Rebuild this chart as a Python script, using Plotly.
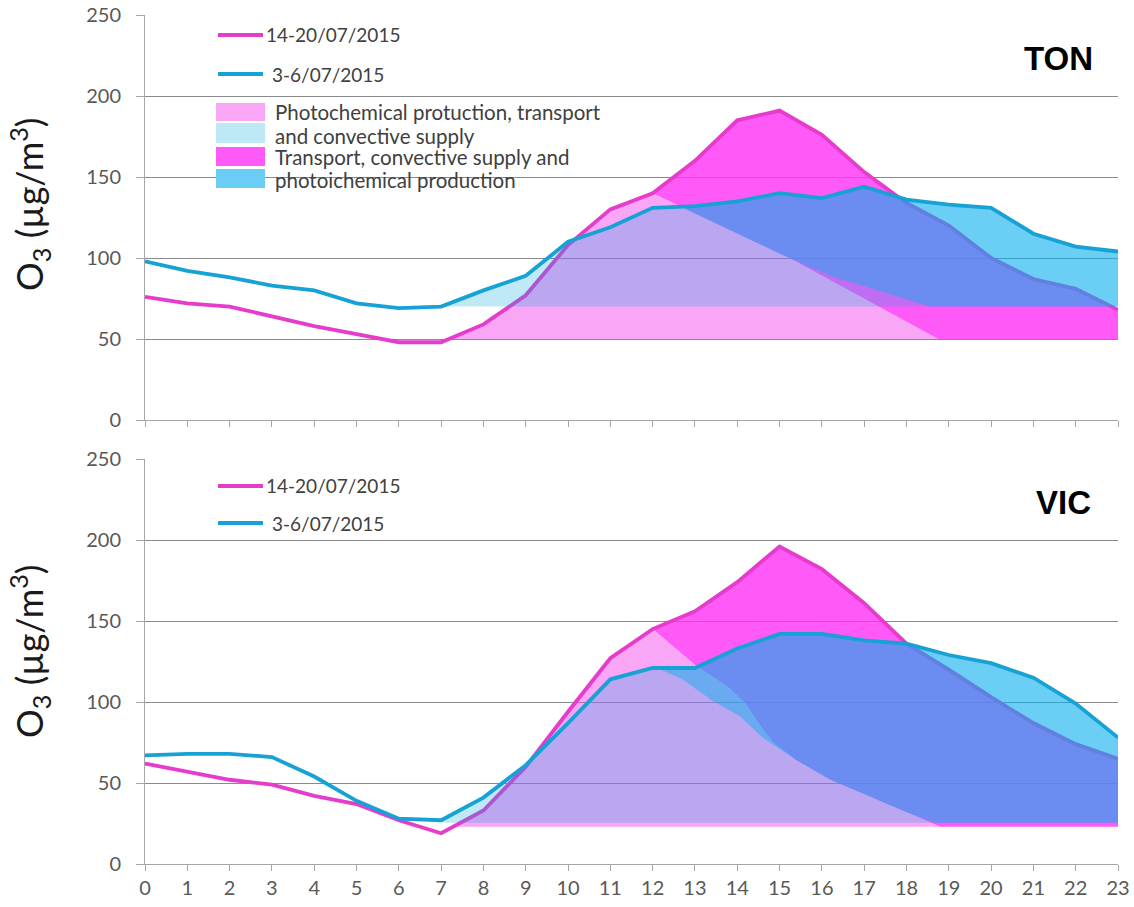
import numpy as np
import plotly.graph_objects as go

# ---------------- data ----------------
HOURS = list(range(24))
HOUR_LABELS = [str(h) for h in HOURS]
Y_TICKS = [0, 50, 100, 150, 200, 250]

SERIES_A = "14-20/07/2015"
SERIES_B = "3-6/07/2015"

TON_JUL14 = [76, 72, 70, 64, 58, 53, 48, 48, 59, 77, 108, 130, 140, 160, 185, 191, 176, 153, 134, 120, 100, 87, 81, 68]
TON_JUL3 = [98, 92, 88, 83, 80, 72, 69, 70, 80, 89, 110, 119, 131, 132, 135, 140, 137, 144, 136, 133, 131, 115, 107, 104]
VIC_JUL14 = [62, 57, 52, 49, 42, 37, 27, 19, 33, 60, 94, 127, 145, 156, 174, 196, 182, 161, 136, 120, 103, 87, 74, 65]
VIC_JUL3 = [67, 68, 68, 66, 54, 39, 28, 27, 41, 61, 87, 114, 121, 121, 133, 142, 142, 138, 136, 129, 124, 115, 99, 78]

# hand-drawn partition of each curve (hour, O3 value)
TON_PINK_BASE = 50
TON_PINK_EDGE_X = [12, 15.3, 18.75]
TON_PINK_EDGE_Y = [140, 99, 50]
TON_CYAN_BASE = 70
TON_CYAN_EDGE_X = [12.65, 15.3, 16.2, 18.55]
TON_CYAN_EDGE_Y = [131.65, 99, 89, 70]

VIC_PINK_BASE = 23
VIC_PINK_EDGE_X = [12, 13.0, 13.8, 14.2, 14.5, 14.85, 15.4, 16.2, 17.0, 18.0, 18.8]
VIC_PINK_EDGE_Y = [145, 123, 109, 99, 87, 75, 64, 52, 43, 32, 23]
VIC_CYAN_BASE = 25.5
VIC_CYAN_EDGE_X = [12.1, 12.7, 13.4, 14.07, 14.6, 15.4, 16.2, 17.0, 18.0, 18.7]
VIC_CYAN_EDGE_Y = [121, 114, 101, 91, 78, 64, 52, 43, 32, 25.5]

LEGEND_AREAS = ["Photochemical protuction, transport", "and convective supply",
                "Transport, convective supply and", "photoichemical production"]

# ---------------- styles ----------------
PINK_LIGHT = "rgba(243,77,239,0.5)"
MAGENTA_FILL = "rgba(255,49,246,0.8)"
CYAN_LIGHT = "rgba(0,167,223,0.25)"
CYAN_FILL = "rgba(9,174,237,0.6)"
MAG_LINE = "#e63ccb"
CYAN_LINE = "#17a2d6"
FONT = "Lato"


def interp(xs, ys, x):
    return float(np.interp(x, xs, ys))


def segment(xs, ys, x0, x1):
    px = [x0] + [x for x in xs if x0 < x < x1] + [x1]
    return px, [interp(xs, ys, x) for x in px]


def rise_start(ys, base):
    i = int(np.argmin(ys[:10]))
    if ys[i] >= base:
        return float(i)
    while ys[i + 1] < base:
        i += 1
    return i + (base - ys[i]) / (ys[i + 1] - ys[i])


def photo_polygon(ys, base, ex, ey):
    x0 = rise_start(ys, base)
    sx, sy = segment(HOURS, ys, x0, ex[0])
    px = sx + list(ex[1:]) + [ex[-1], x0]
    py = sy + list(ey[1:]) + [base, base]
    return px, py


def transport_polygon(ys, base, ex, ey):
    sx, sy = segment(HOURS, ys, ex[0], HOURS[-1])
    px = sx + [HOURS[-1], ex[-1]] + list(ex[::-1])
    py = sy + [base, base] + list(ey[::-1])
    return px, py


fig = go.Figure()


def add_panel(xa, ya, mag, cya, pbase, pex, pey, cbase, cex, cey):
    px, py = photo_polygon(mag, pbase, pex, pey)
    fig.add_trace(go.Scatter(x=px, y=py, fill="toself", fillcolor=PINK_LIGHT, mode="lines",
                             line=dict(width=0), xaxis=xa, yaxis=ya, showlegend=False, hoverinfo="skip"))
    px, py = transport_polygon(mag, pbase, pex, pey)
    fig.add_trace(go.Scatter(x=px, y=py, fill="toself", fillcolor=MAGENTA_FILL, mode="lines",
                             line=dict(width=0), xaxis=xa, yaxis=ya, showlegend=False, hoverinfo="skip"))
    fig.add_trace(go.Scatter(x=HOURS, y=mag, mode="lines", line=dict(color=MAG_LINE, width=3.8),
                             xaxis=xa, yaxis=ya, name=SERIES_A, showlegend=False))
    px, py = photo_polygon(cya, cbase, cex, cey)
    fig.add_trace(go.Scatter(x=px, y=py, fill="toself", fillcolor=CYAN_LIGHT, mode="lines",
                             line=dict(width=0), xaxis=xa, yaxis=ya, showlegend=False, hoverinfo="skip"))
    px, py = transport_polygon(cya, cbase, cex, cey)
    fig.add_trace(go.Scatter(x=px, y=py, fill="toself", fillcolor=CYAN_FILL, mode="lines",
                             line=dict(width=0), xaxis=xa, yaxis=ya, showlegend=False, hoverinfo="skip"))
    fig.add_trace(go.Scatter(x=HOURS, y=cya, mode="lines", line=dict(color=CYAN_LINE, width=3.8),
                             xaxis=xa, yaxis=ya, name=SERIES_B, showlegend=False))


add_panel("x", "y", TON_JUL14, TON_JUL3, TON_PINK_BASE, TON_PINK_EDGE_X, TON_PINK_EDGE_Y,
          TON_CYAN_BASE, TON_CYAN_EDGE_X, TON_CYAN_EDGE_Y)
add_panel("x2", "y2", VIC_JUL14, VIC_JUL3, VIC_PINK_BASE, VIC_PINK_EDGE_X, VIC_PINK_EDGE_Y,
          VIC_CYAN_BASE, VIC_CYAN_EDGE_X, VIC_CYAN_EDGE_Y)

# ---------------- layout ----------------
W, H = 1134, 907
P_LEFT, P_RIGHT, P_TOP, P_BOTTOM = 145, 1118, 15, 864
ML, MR, MT, MB = P_LEFT, W - P_RIGHT, P_TOP, H - P_BOTTOM
PW, PH = W - ML - MR, H - MT - MB


def fx(p):  # pixel x -> paper
    return (p - P_LEFT) / PW


def fy(p):  # pixel y -> paper
    return (P_BOTTOM - p) / PH


AX_COL = "#a6a6a6"
GRID_COL = "#8a8a8a"
TICK_FONT = dict(family=FONT, size=20, color="#595959")

xcommon = dict(range=[0, 23], tickmode="array", tickvals=HOURS, ticktext=HOUR_LABELS,
               ticks="outside", ticklen=6, tickcolor=AX_COL, showline=True, linecolor=AX_COL,
               linewidth=1, showgrid=False, zeroline=False, tickfont=TICK_FONT,
               automargin=False, ticklabeloverflow="allow")
ycommon = dict(range=[0, 250], tickmode="array", tickvals=Y_TICKS, ticks="outside", ticklen=8,
               tickcolor=AX_COL, showline=True, linecolor=AX_COL, linewidth=1, showgrid=True,
               gridcolor=GRID_COL, gridwidth=1, zeroline=False, tickfont=TICK_FONT,
               ticklabelstandoff=11, automargin=False, ticklabeloverflow="allow")

fig.update_layout(
    width=W, height=H, margin=dict(l=ML, r=MR, t=MT, b=MB, autoexpand=False),
    paper_bgcolor="white", plot_bgcolor="white", showlegend=False,
    xaxis=dict(domain=[0, 1], anchor="y", showticklabels=False, **xcommon),
    yaxis=dict(domain=[fy(420), 1], anchor="x", **ycommon),
    xaxis2=dict(domain=[0, 1], anchor="y2", showticklabels=True, **xcommon),
    yaxis2=dict(domain=[0, fy(459)], anchor="x2", **ycommon),
)

shapes = []
annotations = []

# y-axis titles
for yc in (205, 652):
    annotations.append(dict(text="O<sub>3</sub> (µg/m<sup>3</sup>)", xref="paper", yref="paper",
                            x=fx(29), y=fy(yc), xanchor="center", yanchor="middle", textangle=-90,
                            showarrow=False, font=dict(family=FONT, size=36, color="#1a1a1a")))

# site labels
annotations.append(dict(text="<b>TON</b>", xref="paper", yref="paper", x=fx(1058), y=fy(58),
                        xanchor="center", yanchor="middle", showarrow=False,
                        font=dict(family="Liberation Sans", size=33, color="black")))
annotations.append(dict(text="<b>VIC</b>", xref="paper", yref="paper", x=fx(1063), y=fy(502),
                        xanchor="center", yanchor="middle", showarrow=False,
                        font=dict(family="Liberation Sans", size=33, color="black")))

LEG_FONT = dict(family=FONT, size=19, color="#404040")
AREA_FONT = dict(family=FONT, size=20.5, color="#404040")

# line legends in both panels
for ymag, ycy in ((35, 74), (486, 523)):
    for yy, col, txt, tx in ((ymag, MAG_LINE, SERIES_A, 264), (ycy, CYAN_LINE, SERIES_B, 270)):
        shapes.append(dict(type="line", xref="paper", yref="paper", x0=fx(218), x1=fx(263),
                           y0=fy(yy), y1=fy(yy), line=dict(color=col, width=3.8)))
        annotations.append(dict(text=txt, xref="paper", yref="paper", x=fx(tx), y=fy(yy),
                                xanchor="left", yanchor="middle", showarrow=False, font=LEG_FONT))

# area legend boxes (top panel)
boxes = [(103, 121, "#f9a6f7"), (123, 143, "#bde9f7"), (147, 166, "#ff5af8"), (169, 188, "#6acdf3")]
for y0, y1, col in boxes:
    shapes.append(dict(type="rect", xref="paper", yref="paper", x0=fx(216), x1=fx(265),
                       y0=fy(y1), y1=fy(y0), fillcolor=col, line=dict(width=0)))
for yy, txt in zip((112, 136, 157, 180), LEGEND_AREAS):
    annotations.append(dict(text=txt, xref="paper", yref="paper", x=fx(273), y=fy(yy),
                            xanchor="left", yanchor="middle", showarrow=False, font=AREA_FONT))

fig.update_layout(shapes=shapes, annotations=annotations)
# the page body has a default 8px margin; remove it so the figure sits at the page corner
fig.write_html("out.html", config={"displayModeBar": False},
               post_script="document.body.style.margin='0';")
